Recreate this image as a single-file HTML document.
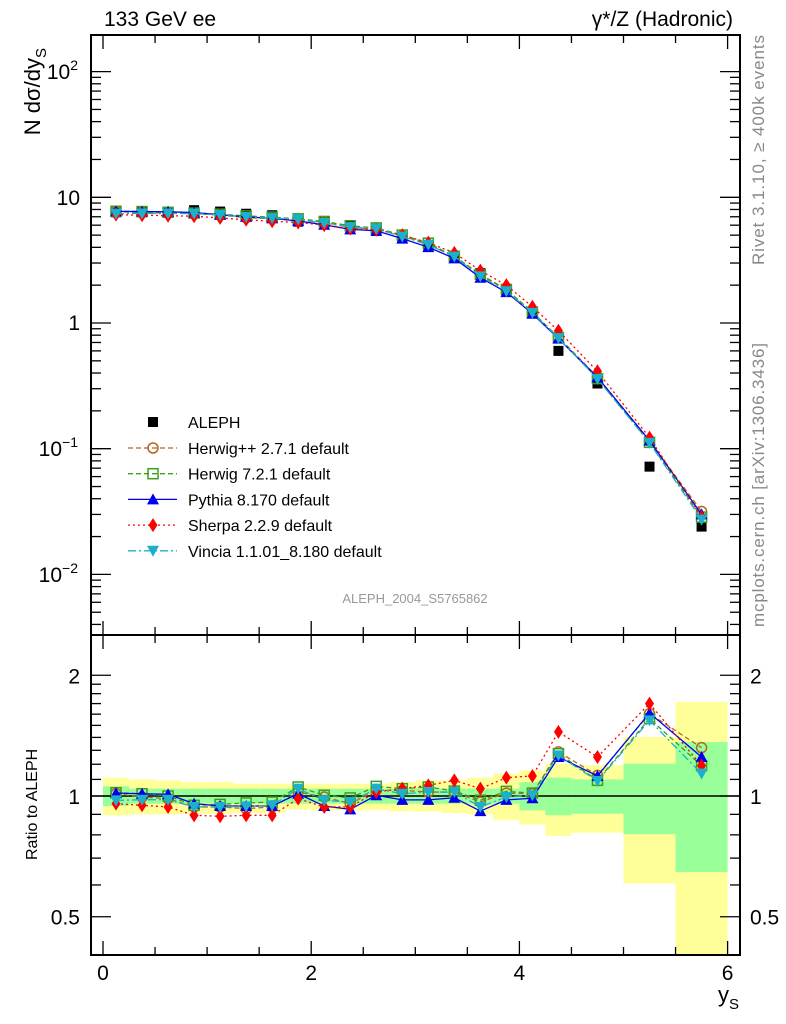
<!DOCTYPE html>
<html><head><meta charset="utf-8"><style>
body{margin:0;background:#fff;}
svg{display:block;font-family:"Liberation Sans",sans-serif;}
</style></head><body>
<svg id="c" width="786" height="1024"></svg>
<script>
const binEdges=[0,0.25,0.5,0.75,1,1.25,1.5,1.75,2,2.25,2.5,2.75,3,3.25,3.5,3.75,4,4.25,4.5,5,5.5,6];
const binCenters=[0.125,0.375,0.625,0.875,1.125,1.375,1.625,1.875,2.125,2.375,2.625,2.875,3.125,3.375,3.625,3.875,4.125,4.375,4.75,5.25,5.75];
const alephValues=[7.6,7.6,7.6,7.9,7.7,7.4,7.2,6.4,6.4,6.0,5.4,4.8,4.1,3.3,2.5,1.8,1.2,0.6,0.33,0.072,0.024];
const herwigppRatio=[1.013,0.994,0.985,0.939,0.939,0.930,0.939,1.023,0.994,0.957,1.033,1.033,1.023,1.023,0.966,1.017,1.013,1.288,1.126,1.605,1.32];
const herwig7Ratio=[1.019,1.013,1.0,0.948,0.953,0.961,0.966,1.053,1.004,0.989,1.057,1.043,1.053,1.029,0.976,1.027,1.017,1.275,1.094,1.56,1.19];
const pythiaRatio=[1.017,1.013,1.010,0.957,0.944,0.944,0.944,1.013,0.944,0.926,1.004,0.978,0.978,0.99,0.917,0.978,0.987,1.251,1.122,1.61,1.251];
const sherpaRatio=[0.957,0.948,0.939,0.895,0.890,0.895,0.895,0.985,0.939,0.939,1.023,1.043,1.063,1.094,1.043,1.111,1.122,1.445,1.251,1.70,1.19];
const vinciaRatio=[0.975,0.979,0.979,0.939,0.939,0.942,0.948,1.043,0.975,0.966,1.043,1.013,1.023,1.023,0.939,0.994,1.004,1.263,1.09,1.544,1.137];
const totHi=[1.111,1.10,1.094,1.083,1.083,1.073,1.073,1.073,1.073,1.073,1.073,1.083,1.094,1.094,1.111,1.137,1.159,1.204,1.193,1.403,1.716];
const totLo=[0.895,0.90,0.90,0.903,0.903,0.907,0.907,0.926,0.921,0.921,0.921,0.915,0.915,0.907,0.9,0.87,0.848,0.795,0.81,0.605,0.35];
const statHi=[1.057,1.043,1.043,1.043,1.043,1.043,1.043,1.043,1.043,1.043,1.043,1.043,1.043,1.043,1.043,1.043,1.083,1.111,1.1,1.204,1.363];
const statLo=[0.944,0.957,0.957,0.957,0.957,0.957,0.957,0.957,0.957,0.957,0.957,0.957,0.957,0.957,0.957,0.957,0.921,0.895,0.903,0.803,0.646];

const NS="http://www.w3.org/2000/svg";
const svg=document.getElementById('c');
const L=91,R=740,T=35,M=635,B=955;
const X=v=>103+v*104.1;
const Ym=v=>323-125.7*Math.log10(v);
const Yr=v=>796-401*Math.log10(v);
function el(tag,attrs,parent){const e=document.createElementNS(NS,tag);for(const k in attrs)e.setAttribute(k,attrs[k]);(parent||svg).appendChild(e);return e;}
function txt(s,x,y,size,extra,parent){const t=el('text',Object.assign({x:x,y:y,'font-size':size},extra||{}),parent);t.textContent=s;return t;}

const defs=el('defs',{});
const cm=el('clipPath',{id:'cm'},defs);el('rect',{x:L,y:T,width:R-L,height:M-T},cm);
const cr=el('clipPath',{id:'cr'},defs);el('rect',{x:L,y:M,width:R-L,height:B-M},cr);

const bands=el('g',{'clip-path':'url(#cr)'});


for(let i=0;i<binCenters.length;i++){
  const x0=X(binEdges[i]),x1=X(binEdges[i+1]);
  const y=el('rect',{x:x0,y:Yr(totHi[i]),width:x1-x0,height:Yr(totLo[i])-Yr(totHi[i]),fill:'#ffff99'},bands);
  
  
  const g=el('rect',{x:x0,y:Yr(statHi[i]),width:x1-x0,height:Yr(statLo[i])-Yr(statHi[i]),fill:'#99ff99'},bands);
  
  
}
el('line',{x1:L,x2:R,y1:Yr(1),y2:Yr(1),stroke:'#000','stroke-width':1.5});

const series=[
 {name:'herwigpp',label:'Herwig++ 2.7.1 default',r:herwigppRatio,color:'#b5651d',dash:'5,3',m:'circle'},
 {name:'herwig7',label:'Herwig 7.2.1 default',r:herwig7Ratio,color:'#3c9e1a',dash:'5,3',m:'square'},
 {name:'pythia',label:'Pythia 8.170 default',r:pythiaRatio,color:'#0000ee',dash:'',m:'tri'},
 {name:'sherpa',label:'Sherpa 2.2.9 default',r:sherpaRatio,color:'#ff0000',dash:'2,3',m:'diamond'},
 {name:'vincia',label:'Vincia 1.1.01_8.180 default',r:vinciaRatio,color:'#1cb0cc',dash:'8,3,2,3',m:'tridown'}
];
function marker(m,x,y,color,parent){
  if(m==='circle')return el('circle',{cx:x,cy:y,r:5,fill:'none',stroke:color,'stroke-width':1.5},parent);
  if(m==='square')return el('rect',{x:x-5,y:y-5,width:10,height:10,fill:'none',stroke:color,'stroke-width':1.5},parent);
  if(m==='tri')return el('polygon',{points:`${x},${y-6} ${x-6},${y+5} ${x+6},${y+5}`,fill:color},parent);
  if(m==='tridown')return el('polygon',{points:`${x},${y+6} ${x-6},${y-5} ${x+6},${y-5}`,fill:color},parent);
  if(m==='diamond')return el('polygon',{points:`${x},${y-7} ${x-4.5},${y} ${x},${y+7} ${x+4.5},${y}`,fill:color},parent);
  return el('rect',{x:x-5,y:y-5,width:10,height:10,fill:color},parent);
}
function drawSeries(s,Yf,vals,clip){
  const g=el('g',{'clip-path':clip});
  
  
  const pts=binCenters.map((c,i)=>X(c)+','+Yf(vals[i])).join(' ');
  const pl=el('polyline',{points:pts,fill:'none',stroke:s.color,'stroke-width':1.3,'stroke-dasharray':s.dash},g);
  
  
  binCenters.forEach((c,i)=>{const mk=marker(s.m,X(c),Yf(vals[i]),s.color,g);
    
    });
}
series.forEach(s=>drawSeries(s,Yr,s.r,'url(#cr)'));
const ga=el('g',{'clip-path':'url(#cm)'});


binCenters.forEach((c,i)=>{const mk=marker('sq',X(c),Ym(alephValues[i]),'#000',ga);
  
  });
series.forEach(s=>drawSeries(s,Ym,s.r.map((r,i)=>r*alephValues[i]),'url(#cm)'));

el('rect',{x:L,y:T,width:R-L,height:M-T,fill:'none',stroke:'#000','stroke-width':2});
el('rect',{x:L,y:M,width:R-L,height:B-M,fill:'none',stroke:'#000','stroke-width':2});
const tk=el('g',{stroke:'#000','stroke-width':1.3});
for(let v=0;v<=6.001;v+=0.5){
  const len=(Math.abs(v-Math.round(v/2)*2)<1e-6)?14:8;
  const x=X(v);
  [[T,1],[M,-1],[M,1],[B,-1]].forEach(([y0,d])=>el('line',{x1:x,x2:x,y1:y0,y2:y0+d*len},tk));
}
['0','2','4','6'].forEach((s,i)=>{const t=txt(s,X(i*2),980,21,{'text-anchor':'middle'});
  });
for(let e=-3;e<=2;e++){for(let k=1;k<10;k++){const v=k*Math.pow(10,e);const y=Ym(v);if(y<T||y>M)continue;
  const len=k===1?20:10;el('line',{x1:L,x2:L+len,y1:y,y2:y},tk);el('line',{x1:R,x2:R-len,y1:y,y2:y},tk);}}
const ml=el('g',{'text-anchor':'end'});

function pw(b,ex,y){const t=txt(b,78,y+7,21,{},ml);const s=el('tspan',{'font-size':14,dy:-9},t);s.textContent=ex;}
pw('10','2',72);txt('10',80,205,21,{},ml);txt('1',80,330,21,{},ml);pw('10','−1',449);pw('10','−2',575);
[0.4,0.5,0.6,0.7,0.8,0.9,1,1.1,1.2,1.3,1.4,1.5,1.6,1.7,1.8,1.9,2].forEach(v=>{const y=Yr(v);if(y<M||y>B)return;
  const len=(v===0.5||v===1||v===2)?20:10;el('line',{x1:L,x2:L+len,y1:y,y2:y},tk);el('line',{x1:R,x2:R-len,y1:y,y2:y},tk);});
[['2',2],['1',1],['0.5',0.5]].forEach(([s,v])=>{txt(s,80,Yr(v)+8,21,{'text-anchor':'end'});txt(s,750,Yr(v)+8,21,{'text-anchor':'start'});});

txt('133 GeV ee',104,26,21,{});
txt('γ*/Z (Hadronic)',733,26,21,{'text-anchor':'end',});
const yt=txt('N dσ/dy',0,0,22,{transform:'translate(40,48) rotate(-90)','text-anchor':'end',});
const ys=el('tspan',{'font-size':15,dy:6},yt);ys.textContent='S';
txt('Ratio to ALEPH',0,0,16,{transform:'translate(37,860) rotate(-90)',});
const xt=txt('y',718,1002,22,{});
const xs=el('tspan',{'font-size':15,dy:7},xt);xs.textContent='S';
txt('Rivet 3.1.10, ≥ 400k events',0,0,17,{transform:'translate(764,265) rotate(-90)',fill:'#888','textLength':230,});
txt('mcplots.cern.ch [arXiv:1306.3436]',0,0,17,{transform:'translate(764,627) rotate(-90)',fill:'#888','textLength':284,});
txt('ALEPH_2004_S5765862',415,603,13,{'text-anchor':'middle',fill:'#999',});

const lg=el('g',{});

const ea=el('g',{},lg);
marker('sq',153,422,'#000',ea);txt('ALEPH',188,428,16,{},ea);
series.forEach((s,i)=>{const y=448+i*25.7;const g=el('g',{},lg);
  
  el('line',{x1:128,x2:177,y1:y,y2:y,stroke:s.color,'stroke-width':1.3,'stroke-dasharray':s.dash},g);
  marker(s.m,153,y,s.color,g);txt(s.label,188,y+6,16,{},g);});
</script>
</body></html>
